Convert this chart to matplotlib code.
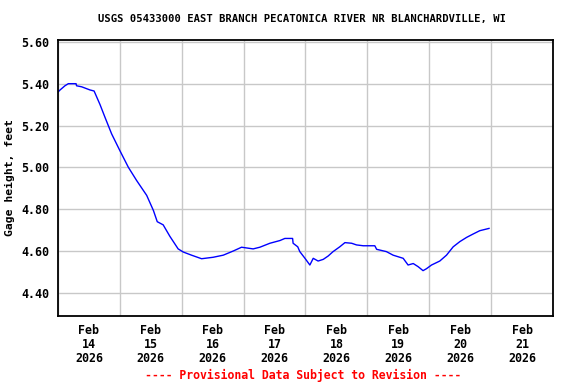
"""USGS gage height plot, East Branch Pecatonica River nr Blanchardville, WI."""

from datetime import datetime, timedelta

import matplotlib
matplotlib.use("Agg")
import matplotlib.pyplot as plt
import matplotlib.dates as mdates
from matplotlib.ticker import FixedLocator, FuncFormatter

# hours since 2026-02-14 00:00 and gage height (ft)
hours = [0, 0.8, 2.7, 4.0, 7.0, 7.2, 9.2, 12.4, 14.0, 16.3, 18.2, 20.8, 24.0,
         27.3, 30.5, 34.4, 37.0, 38.5, 40.8, 43.4, 46.6, 48.6, 51.8, 55.7,
         60.2, 64.1, 68.0, 71.2, 75.7, 78.3, 82.2, 86.1, 88.0, 91.0, 91.2,
         93.0, 93.8, 95.8, 97.7, 99.0, 100.9, 102.9, 104.8, 106.7, 109.3,
         111.3, 113.9, 115.8, 118.4, 122.9, 123.6, 127.4, 130.0, 133.9, 135.8,
         137.8, 139.7, 141.6, 142.9, 144.9, 148.1, 150.7, 153.3, 155.9, 158.5,
         161.0, 163.6, 167.2]
gage_ft = [5.36, 5.37, 5.39, 5.40, 5.40, 5.39, 5.385, 5.37, 5.365, 5.30, 5.24,
           5.16, 5.08, 5.00, 4.937, 4.866, 4.794, 4.74, 4.725, 4.67, 4.61,
           4.595, 4.58, 4.563, 4.57, 4.58, 4.60, 4.618, 4.61, 4.618, 4.637,
           4.65, 4.66, 4.66, 4.637, 4.62, 4.597, 4.565, 4.533, 4.565, 4.552,
           4.56, 4.576, 4.597, 4.62, 4.64, 4.637, 4.629, 4.625, 4.625, 4.608,
           4.597, 4.58, 4.565, 4.533, 4.54, 4.525, 4.506, 4.515, 4.533, 4.552,
           4.58, 4.62, 4.645, 4.665, 4.681, 4.697, 4.708]
y_ticks = [4.40, 4.60, 4.80, 5.00, 5.20, 5.40, 5.60]

T0 = datetime(2026, 2, 14)
FONT = "DejaVu Sans Mono"

times = [T0 + timedelta(hours=h) for h in hours]
days = [T0 + timedelta(days=d) for d in range(9)]
noons = [T0 + timedelta(days=d, hours=12) for d in range(8)]

fig = plt.figure(figsize=(5.76, 3.84), dpi=100)
ax = fig.add_axes([0.1007, 0.177, 0.8593, 0.72])

ax.plot(times, gage_ft, "-", color="#0000ff", lw=1.0)

ax.set_xlim(days[0], days[-1])
ax.set_ylim(4.289, 5.611)

# gridlines at midnight, labels at noon
ax.xaxis.set_major_locator(FixedLocator(mdates.date2num(days)))
ax.xaxis.set_minor_locator(FixedLocator(mdates.date2num(noons)))
ax.xaxis.set_major_formatter(FuncFormatter(lambda v, p: ""))
ax.xaxis.set_minor_formatter(
    FuncFormatter(lambda v, p: mdates.num2date(v).strftime("%b\n%d\n%Y")))
ax.tick_params(axis="x", which="both", length=0, pad=6)
ax.set_yticks(y_ticks)
ax.yaxis.set_major_formatter(FuncFormatter(lambda v, p: f"{v:.2f}"))
ax.tick_params(axis="y", length=0, pad=6)

for lab in ax.get_xticklabels(minor=True) + ax.get_yticklabels():
    lab.set_family(FONT)
    lab.set_fontweight("bold")
    lab.set_fontsize(8.4)
    lab.set_linespacing(1.1)

ax.grid(True, which="major", color="#c8c8c8", lw=1.0)
ax.set_axisbelow(True)
for s in ax.spines.values():
    s.set_linewidth(1.3)
    s.set_color("black")

ax.set_ylabel("Gage height, feet", family=FONT, fontweight="bold",
              fontsize=8.2, labelpad=3)
ax.yaxis.set_label_coords(-0.087, 0.5)
fig.text(0.525, 0.951, "USGS 05433000 EAST BRANCH PECATONICA RIVER NR BLANCHARDVILLE, WI",
         ha="center", va="center", family=FONT, fontweight="bold", fontsize=7.6)
fig.text(0.526, 0.023, "---- Provisional Data Subject to Revision ----",
         ha="center", va="center", family=FONT, fontweight="bold",
         fontsize=8.3, color="#ff0000")

fig.savefig("out.png", dpi=100)
